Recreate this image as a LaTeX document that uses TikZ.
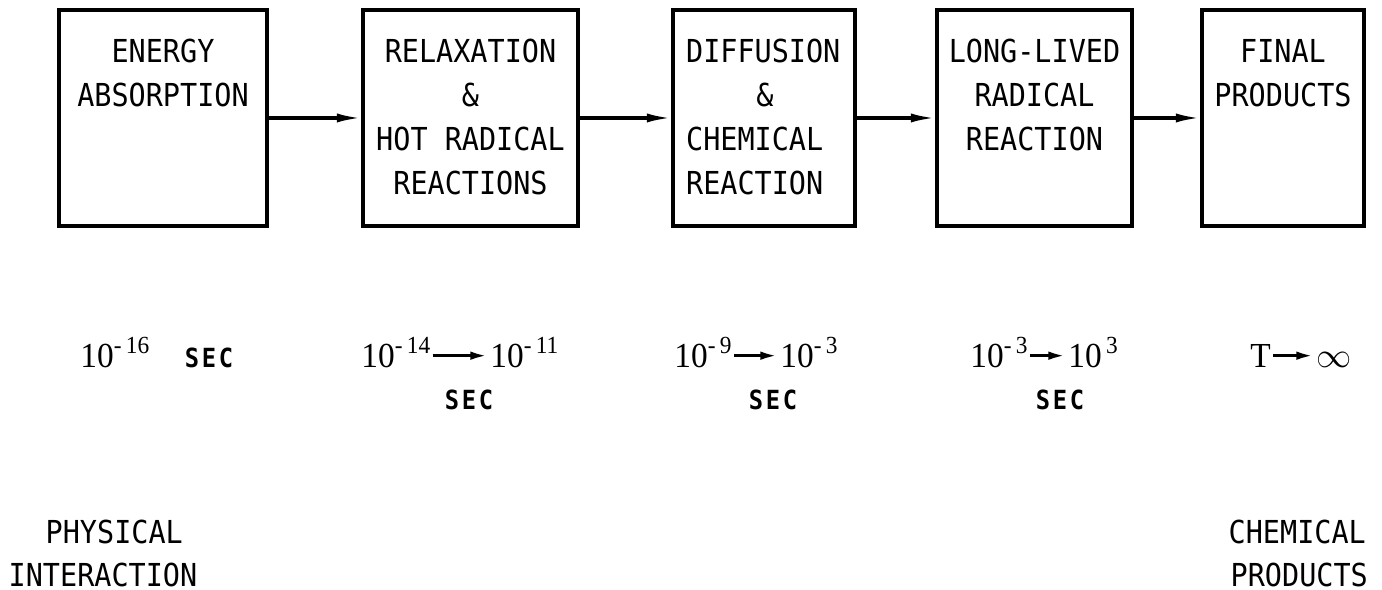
\documentclass[tikz,border=0pt]{standalone}
\usepackage{fontspec}
\setmainfont{DejaVu Sans Mono}[FakeStretch=0.9]
\newfontfamily\timefont{Liberation Serif}[FakeStretch=0.95]
\usepackage{tikz}
\usetikzlibrary{arrows.meta,positioning}
% power of ten with a spaced-out exponent
\newcommand{\tenpow}[2]{10\raisebox{4pt}{\fontsize{7}{7}\selectfont#1\hspace{1.2pt}#2}}
\tikzstyle{stage}=[draw,line width=0.9pt,minimum height=2.16cm,inner sep=0pt]
\tikzstyle{stagetext}=[inner sep=0pt,font=\fontsize{9}{12.5}\selectfont]
\tikzstyle{flow}=[line width=0.9pt,-{Latex[length=7pt,width=2.6pt]}]
\tikzstyle{timetext}=[inner sep=0.5pt,anchor=base west,text height=7pt,text depth=0pt,font=\timefont\fontsize{10}{12}\selectfont]
\tikzstyle{tarrow}=[line width=0.9pt,-{Latex[length=5pt,width=2.4pt]}]
\tikzstyle{sectext}=[inner sep=0pt,anchor=base,font=\bfseries\fontsize{7.5}{9}\selectfont\addfontfeature{LetterSpace=10}]
\tikzstyle{endtext}=[inner sep=0pt,anchor=base west,font=\fontsize{9}{11}\selectfont]

\begin{document}
\begin{tikzpicture}
\useasboundingbox (0, 0) rectangle (13.82, -5.90);
% the five stages
\draw (1.63, -1.18) node [stage, minimum width=2.08cm] (s1) {};
\draw (4.705, -1.18) node [stage, minimum width=2.15cm] (s2) {};
\draw (7.64, -1.18) node [stage, minimum width=1.82cm] (s3) {};
\draw (10.345, -1.18) node [stage, minimum width=1.95cm] (s4) {};
\draw (12.83, -1.18) node [stage, minimum width=1.62cm] (s5) {};
\node [stagetext, align=center, below=0.30cm of s1.north] (c1) {ENERGY\\ABSORPTION};
\node [stagetext, align=center, below=0.30cm of s2.north] (c2) {RELAXATION\\\&\\HOT RADICAL\\REACTIONS};
\node [stagetext, align=left, below right=0.30cm and 0.14cm of s3.north west] (c3) {DIFFUSION\\\hspace*{20pt}\&\\CHEMICAL\\REACTION};
\node [stagetext, align=center, below=0.30cm of s4.north] (c4) {LONG-LIVED\\RADICAL\\REACTION};
\node [stagetext, align=center, below=0.30cm of s5.north] (c5) {FINAL\\PRODUCTS};
\draw [flow] (s1) -- (s2);
\draw [flow] (s2) -- (s3);
\draw [flow] (s3) -- (s4);
\draw [flow] (s4) -- (s5);
% time scales
\draw (0.78, -3.68) node [timetext] (t1) {\tenpow{-}{16}};
\node [sectext] (u1) at (2.09, -3.68) {SEC};
\draw (3.59, -3.68) node [timetext] (t2a) {\tenpow{-}{14}};
\draw (4.88, -3.68) node [timetext] (t2b) {\tenpow{-}{11}};
\node [sectext] (u2) at (4.69, -4.10) {SEC};
\draw (6.72, -3.68) node [timetext] (t3a) {\tenpow{-}{9}};
\draw (7.78, -3.68) node [timetext] (t3b) {\tenpow{-}{3}};
\node [sectext] (u3) at (7.73, -4.10) {SEC};
\draw (9.68, -3.68) node [timetext] (t4a) {\tenpow{-}{3}};
\draw (10.66, -3.68) node [timetext] (t4b) {\tenpow{}{3}};
\node [sectext] (u4) at (10.60, -4.10) {SEC};
\draw (12.48, -3.68) node [timetext] (t5a) {T};
\draw (13.14, -3.68) node [timetext] (t5b) {$\infty$};
\draw [tarrow] (t2a) -- (t2b);
\draw [tarrow] (t3a) -- (t3b);
\draw [tarrow] (t4a) -- (t4b);
\draw [tarrow] (t5a) -- (t5b);
% the two ends of the scale
\node [endtext] (e1) at (0.45, -5.44) {PHYSICAL};
\node [endtext] (e2) at (0.08, -5.87) {INTERACTION};
\node [endtext] (e3) at (12.28, -5.44) {CHEMICAL};
\node [endtext] (e4) at (12.30, -5.87) {PRODUCTS};
\end{tikzpicture}
\end{document}
